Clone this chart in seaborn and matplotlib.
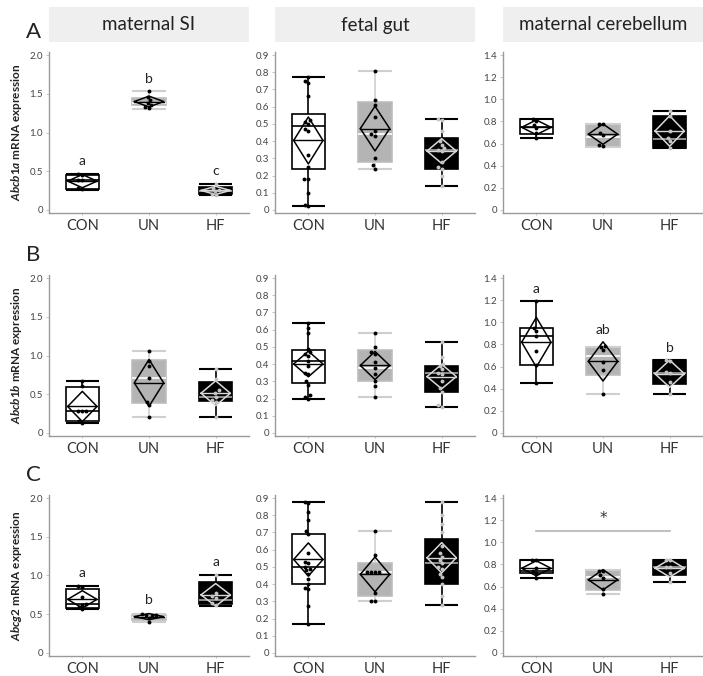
import numpy as np
import pandas as pd
import seaborn as sns
import matplotlib.pyplot as plt
from matplotlib.patches import Rectangle
from matplotlib.ticker import FuncFormatter, MultipleLocator

groups = ["CON", "UN", "HF"]
tissues = ["maternal SI", "fetal gut", "maternal cerebellum"]
genes = ["Abcb1a", "Abcb1b", "Abcg2"]
row_letters = ["A", "B", "C"]
col_ymax = [2.0, 0.9, 1.4]
col_ystep = [0.5, 0.1, 0.2]

# individual points per group
# Abcb1a
abcb1a_si = {"CON": [0.27, 0.28, 0.38, 0.39, 0.45, 0.46],
             "UN": [1.32, 1.33, 1.36, 1.38, 1.42, 1.46, 1.53],
             "HF": [0.19, 0.21, 0.24, 0.26, 0.28, 0.33]}
abcb1a_gut = {"CON": [0.02, 0.03, 0.10, 0.18, 0.18, 0.25, 0.32, 0.46, 0.47, 0.50, 0.51, 0.52, 0.66, 0.74, 0.75, 0.77],
              "UN": [0.24, 0.26, 0.30, 0.43, 0.44, 0.46, 0.54, 0.61, 0.64, 0.81],
              "HF": [0.14, 0.20, 0.24, 0.25, 0.28, 0.34, 0.35, 0.36, 0.38, 0.40, 0.46, 0.52, 0.53]}
abcb1a_cb = {"CON": [0.65, 0.70, 0.74, 0.77, 0.80, 0.82],
             "UN": [0.58, 0.59, 0.68, 0.70, 0.78, 0.78],
             "HF": [0.56, 0.62, 0.65, 0.71, 0.85, 0.89]}

# Abcb1b
abcb1b_si = {"CON": [0.13, 0.15, 0.28, 0.28, 0.28, 0.60, 0.67],
             "UN": [0.20, 0.36, 0.40, 0.71, 0.86, 0.93, 1.06],
             "HF": [0.20, 0.40, 0.43, 0.47, 0.52, 0.55, 0.70, 0.83]}
abcb1b_gut = {"CON": [0.20, 0.21, 0.22, 0.28, 0.30, 0.34, 0.35, 0.39, 0.42, 0.45, 0.46, 0.47, 0.49, 0.58, 0.61, 0.64],
              "UN": [0.21, 0.27, 0.30, 0.34, 0.38, 0.41, 0.46, 0.47, 0.50, 0.58],
              "HF": [0.15, 0.16, 0.24, 0.26, 0.30, 0.34, 0.35, 0.37, 0.39, 0.40, 0.44, 0.53]}
abcb1b_cb = {"CON": [0.45, 0.61, 0.74, 0.88, 0.92, 0.95, 1.19],
             "UN": [0.35, 0.57, 0.64, 0.75, 0.78, 0.79],
             "HF": [0.35, 0.46, 0.54, 0.55, 0.65, 0.66]}

# Abcg2
abcg2_si = {"CON": [0.57, 0.59, 0.62, 0.63, 0.72, 0.85, 0.86],
            "UN": [0.40, 0.45, 0.48, 0.49, 0.49, 0.50],
            "HF": [0.62, 0.65, 0.71, 0.74, 0.77, 1.01]}
abcg2_gut = {"CON": [0.17, 0.27, 0.37, 0.38, 0.40, 0.43, 0.46, 0.48, 0.49, 0.50, 0.52, 0.53, 0.58, 0.69, 0.71, 0.77, 0.82, 0.87, 0.88],
             "UN": [0.30, 0.30, 0.35, 0.47, 0.47, 0.47, 0.47, 0.57, 0.71],
             "HF": [0.28, 0.33, 0.40, 0.44, 0.46, 0.49, 0.50, 0.52, 0.54, 0.56, 0.58, 0.62, 0.70, 0.75, 0.80, 0.88]}
abcg2_cb = {"CON": [0.68, 0.72, 0.74, 0.77, 0.84, 0.84],
            "UN": [0.53, 0.58, 0.68, 0.70, 0.74, 0.74],
            "HF": [0.64, 0.72, 0.78, 0.78, 0.84, 0.84]}

# box summaries as drawn: min, q1, median, q3, max
abcb1a_si_box = {"CON": [0.26, 0.27, 0.38, 0.45, 0.46], "UN": [1.31, 1.35, 1.38, 1.44, 1.53],
                 "HF": [0.19, 0.20, 0.25, 0.29, 0.33]}
abcb1a_gut_box = {"CON": [0.02, 0.24, 0.485, 0.56, 0.77], "UN": [0.24, 0.28, 0.44, 0.63, 0.81],
                  "HF": [0.14, 0.24, 0.35, 0.42, 0.53]}
abcb1a_cb_box = {"CON": [0.65, 0.69, 0.75, 0.82, 0.82], "UN": [0.57, 0.57, 0.66, 0.78, 0.78],
                 "HF": [0.56, 0.56, 0.64, 0.85, 0.89]}
abcb1b_si_box = {"CON": [0.13, 0.15, 0.28, 0.59, 0.67], "UN": [0.20, 0.38, 0.71, 0.94, 1.06],
                 "HF": [0.20, 0.41, 0.47, 0.66, 0.83]}
abcb1b_gut_box = {"CON": [0.20, 0.29, 0.42, 0.48, 0.64], "UN": [0.21, 0.30, 0.38, 0.48, 0.58],
                  "HF": [0.15, 0.24, 0.35, 0.39, 0.53]}
abcb1b_cb_box = {"CON": [0.45, 0.61, 0.88, 0.95, 1.19], "UN": [0.35, 0.52, 0.70, 0.78, 0.78],
                 "HF": [0.35, 0.44, 0.54, 0.66, 0.66]}
abcg2_si_box = {"CON": [0.57, 0.58, 0.63, 0.83, 0.86], "UN": [0.40, 0.43, 0.47, 0.49, 0.50],
                "HF": [0.61, 0.63, 0.68, 0.91, 1.01]}
abcg2_gut_box = {"CON": [0.17, 0.40, 0.50, 0.69, 0.88], "UN": [0.30, 0.33, 0.47, 0.52, 0.71],
                 "HF": [0.28, 0.40, 0.52, 0.66, 0.88]}
abcg2_cb_box = {"CON": [0.68, 0.72, 0.74, 0.84, 0.84], "UN": [0.53, 0.57, 0.69, 0.75, 0.75],
                "HF": [0.64, 0.70, 0.78, 0.84, 0.84]}

panels = [[abcb1a_si, abcb1a_gut, abcb1a_cb],
          [abcb1b_si, abcb1b_gut, abcb1b_cb],
          [abcg2_si, abcg2_gut, abcg2_cb]]
panel_boxes = [[abcb1a_si_box, abcb1a_gut_box, abcb1a_cb_box],
               [abcb1b_si_box, abcb1b_gut_box, abcb1b_cb_box],
               [abcg2_si_box, abcg2_gut_box, abcg2_cb_box]]

# significance letters: (row, col) -> labels, heights
sig_letters = {(0, 0): (["a", "b", "c"], [0.63, 1.69, 0.50]),
               (1, 2): (["a", "ab", "b"], [1.30, 0.93, 0.77]),
               (2, 0): (["a", "b", "a"], [1.03, 0.68, 1.18])}
star_panel = (2, 2)
star_line_y = 1.10
star_y = 1.22

box_fill = {"CON": "white", "UN": "#b4b4b4", "HF": "black"}
box_edge = {"CON": "black", "UN": "#bdbdbd", "HF": "black"}
median_col = {"CON": "black", "UN": "white", "HF": "#a8a8a8"}
whisker_col = {"CON": "black", "UN": "#cfcfcf", "HF": "black"}
diamond_col = {"CON": "black", "UN": "black", "HF": "#d9d9d9"}
point_col = {"CON": "black", "UN": "black", "HF": "#c4c4c4"}

t95 = {3: 3.182, 4: 2.776, 5: 2.571, 6: 2.447, 7: 2.365, 8: 2.306, 9: 2.262,
       10: 2.228, 11: 2.201, 12: 2.179, 13: 2.160, 14: 2.145, 15: 2.131,
       16: 2.120, 17: 2.110, 18: 2.101, 19: 2.093, 20: 2.086}

sns.set_theme(style="ticks")
plt.rcParams["font.family"] = ["Lato", "DejaVu Sans"]
plt.rcParams["mathtext.fontset"] = "custom"
plt.rcParams["mathtext.it"] = "Lato:italic:bold"
plt.rcParams["mathtext.rm"] = "Lato:bold"


def mean_diamond(ax, x, vals, color):
    vals = np.asarray(vals)
    n = len(vals)
    m = vals.mean()
    half = t95[n - 1] * vals.std(ddof=1) / np.sqrt(n)
    w = 0.22
    ax.plot([x - w, x, x + w, x, x - w], [m, m + half, m, m - half, m],
            color=color, lw=1.1, zorder=4)
    ax.plot([x - w, x + w], [m, m], color=color, lw=1.0, zorder=4)


W, H = 703, 676
col_left = [49, 275, 503]
row_top = [52, 275, 495]
ax_w, ax_h = 200, 161

fig = plt.figure(figsize=(W / 100, H / 100), dpi=100)

for c, tissue in enumerate(tissues):
    fig.add_artist(Rectangle((col_left[c] / W, 1 - 42 / H), ax_w / W, 35 / H,
                             transform=fig.transFigure, facecolor="#efefef",
                             edgecolor="none"))
    fig.text((col_left[c] + ax_w / 2) / W, 1 - 25 / H, tissue, ha="center",
             va="center", fontsize=13.5, color="#222222")

for r in range(3):
    fig.text(33 / W, 1 - (row_top[r] - 20) / H, row_letters[r], ha="center",
             va="center", fontsize=16, color="#222222")
    fig.text(17 / W, 1 - (row_top[r] + ax_h / 2) / H,
             r"$\mathit{" + genes[r] + "}$ mRNA expression", rotation=90,
             ha="center", va="center", fontsize=8.5, fontweight="bold",
             color="#222222")
    for c in range(3):
        ax = fig.add_axes([col_left[c] / W, 1 - (row_top[r] + ax_h) / H,
                           ax_w / W, ax_h / H])
        data = panels[r][c]
        boxes = panel_boxes[r][c]
        df = pd.DataFrame([(g, v) for g in groups for v in data[g]],
                          columns=["group", "value"])
        bdf = pd.DataFrame([(g, v) for g in groups for v in boxes[g]],
                           columns=["group", "value"])
        for i, g in enumerate(groups):
            sub = df[df["group"] == g]
            bsub = bdf[bdf["group"] == g]
            sns.boxplot(data=bsub, x="group", y="value", order=groups, ax=ax,
                        color=box_fill[g], linecolor=box_edge[g], saturation=1,
                        width=0.5, whis=(0, 100), fliersize=0, linewidth=1.2,
                        medianprops={"color": median_col[g], "linewidth": 1.2},
                        whiskerprops={"color": whisker_col[g], "linewidth": 1.2},
                        capprops={"visible": False})
            ax.hlines([bsub["value"].min(), bsub["value"].max()], i - 0.25, i + 0.25,
                      color=whisker_col[g], lw=1.5, zorder=3)
            mean_diamond(ax, i, data[g], diamond_col[g])
            sns.swarmplot(data=sub, x="group", y="value", order=groups, ax=ax,
                          color=point_col[g], size=2.8, zorder=5)

        ymax = col_ymax[c]
        ax.set_xlim(-0.5, 2.5)
        ax.set_ylim(-0.02 * ymax, 1.02 * ymax)
        ax.yaxis.set_major_locator(MultipleLocator(col_ystep[c]))
        ax.yaxis.set_major_formatter(FuncFormatter(
            lambda v, p: "0" if abs(v) < 1e-9 else f"{v:.1f}"))
        ax.set_xlabel("")
        ax.set_ylabel("")
        sns.despine(ax=ax)
        for s in ["left", "bottom"]:
            ax.spines[s].set_color("#9a9a9a")
            ax.spines[s].set_linewidth(1.0)
        ax.tick_params(axis="y", labelsize=7, colors="#444444", length=2.5,
                       width=0.6, pad=2)
        ax.tick_params(axis="x", labelsize=10.5, colors="#333333", length=1.5,
                       width=0.6, pad=3)
        ax.tick_params(axis="both", color="#bbbbbb")

        if (r, c) in sig_letters:
            labels, heights = sig_letters[(r, c)]
            for i, (lab, yv) in enumerate(zip(labels, heights)):
                ax.text(i, yv, lab, ha="center", va="center", fontsize=10,
                        color="#222222")
        if (r, c) == star_panel:
            ax.plot([0, 2], [star_line_y, star_line_y], color="#c0c0c0", lw=1.5)
            ax.text(1, star_y, "*", ha="center", va="center", fontsize=11,
                    color="#333333", family="DejaVu Sans")

fig.savefig("out.png", dpi=100)
